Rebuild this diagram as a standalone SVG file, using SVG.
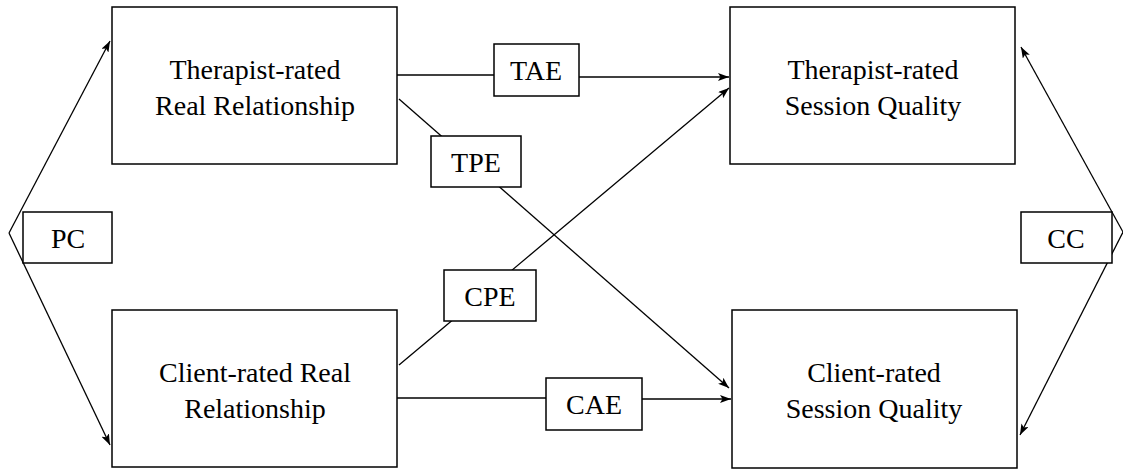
<svg xmlns="http://www.w3.org/2000/svg" width="1123" height="469" viewBox="0 0 1123 469">
<style>
.box{fill:#fff;stroke:#000;stroke-width:1.5}
.lbl{fill:#fff;stroke:#000;stroke-width:1.5}
.t{font-family:'Liberation Serif',Tinos,'Times New Roman',Times,'DejaVu Serif',serif;font-size:28px;fill:#000;text-anchor:middle}
.ln{fill:none;stroke:#000;stroke-width:1.3}
.arr{marker-end:url(#ah)}
</style>
<defs>
<marker id="ah" markerUnits="userSpaceOnUse" markerWidth="12" markerHeight="8" refX="11" refY="4" orient="auto">
<path d="M0,0 L11,4 L0,8 L2.5,4 z" fill="#000"/>
</marker>
</defs>
<rect width="1123" height="469" fill="#fff"/>
<g id="connectors">
<line class="ln arr" x1="9" y1="233" x2="110" y2="41"/>
<line class="ln arr" x1="9" y1="233" x2="110" y2="445"/>
<line class="ln arr" x1="1123" y1="232" x2="1021" y2="47"/>
<line class="ln arr" x1="1123" y1="232" x2="1020" y2="435"/>
<line class="ln" x1="397" y1="75" x2="494" y2="75"/>
<line class="ln arr" x1="579" y1="77" x2="729" y2="77"/>
<line class="ln arr" x1="399" y1="99" x2="729" y2="388"/>
<line class="ln arr" x1="399" y1="365" x2="729" y2="88"/>
<line class="ln" x1="397" y1="398" x2="546" y2="398"/>
<line class="ln arr" x1="642" y1="399" x2="731" y2="399"/>
</g>
<g id="n-trr">
<rect class="box" x="112" y="7" width="285" height="157"/>
<text class="t" font-family="Liberation Serif, serif" x="255" y="79">Therapist-rated</text>
<text class="t" font-family="Liberation Serif, serif" x="255" y="115">Real Relationship</text>
</g>
<g id="n-crr">
<rect class="box" x="112" y="310" width="285" height="157"/>
<text class="t" x="255" y="382">Client-rated Real</text>
<text class="t" x="255" y="418">Relationship</text>
</g>
<g id="n-tsq">
<rect class="box" x="730" y="7" width="285" height="157"/>
<text class="t" x="873" y="79">Therapist-rated</text>
<text class="t" x="873" y="115">Session Quality</text>
</g>
<g id="n-csq">
<rect class="box" x="732" y="310" width="285" height="158"/>
<text class="t" x="874" y="382">Client-rated</text>
<text class="t" x="874" y="418">Session Quality</text>
</g>
<g id="n-pc">
<rect class="lbl" x="23" y="212" width="89" height="51"/>
<text class="t" x="68" y="248">PC</text>
</g>
<g id="n-cc">
<rect class="lbl" x="1021" y="212" width="91" height="51"/>
<text class="t" x="1066" y="248">CC</text>
</g>
<g id="n-tae">
<rect class="lbl" x="494" y="44" width="85" height="52"/>
<text class="t" x="536" y="80">TAE</text>
</g>
<g id="n-tpe">
<rect class="lbl" x="431" y="136" width="90" height="51"/>
<text class="t" x="476" y="172">TPE</text>
</g>
<g id="n-cpe">
<rect class="lbl" x="444" y="270" width="92" height="51"/>
<text class="t" x="490" y="306">CPE</text>
</g>
<g id="n-cae">
<rect class="lbl" x="546" y="378" width="96" height="52"/>
<text class="t" x="594" y="414">CAE</text>
</g>
</svg>
